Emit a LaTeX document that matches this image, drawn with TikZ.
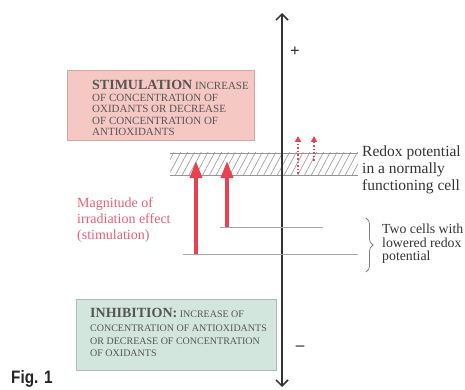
\documentclass[tikz,border=0pt]{standalone}
\usepackage{fontspec}
\setmainfont{Liberation Serif}
\newfontfamily\figfont{Liberation Sans}
\usetikzlibrary{arrows.meta,patterns.meta,decorations.pathreplacing}
\definecolor{stimpink}{RGB}{246,200,196}
\definecolor{stimedge}{RGB}{214,166,162}
\definecolor{inhgreen}{RGB}{211,230,221}
\definecolor{inhedge}{RGB}{170,190,182}
\definecolor{effred}{RGB}{232,66,80}
\definecolor{labred}{RGB}{230,96,114}
\definecolor{boxtext}{RGB}{85,85,85}
\definecolor{hatchgray}{RGB}{150,150,150}

\begin{document}
\begin{tikzpicture}[x=1pt, y=-1pt,
    boxtxt/.style = {anchor = north west, align = left, inner sep = 0pt, text = boxtext,
                     font = \fontsize{10}{11.5}\selectfont},
    sidetxt/.style = {anchor = west, align = left, inner sep = 0pt, text = black!80},
    effect/.style = {draw = effred, line width = 3.6pt, -{Triangle[width = 12pt, length = 17pt]}},
    rise/.style = {draw = effred, line width = 1.6pt, dotted, -{Triangle[width = 6pt, length = 6pt]}},
    level/.style = {draw = gray!70, line width = .7pt},
    sign/.style = {font = \bfseries\fontsize{17}{17}\selectfont, text = black!80, inner sep = 0pt}]
    \useasboundingbox (0,0) rectangle (465,390);
    % Draw the boxes
    \node[draw = stimedge, fill = stimpink, minimum width = 187pt, minimum height = 70pt, inner sep = 0pt] (stim) at (160.5,105) {};
    \node[boxtxt, font = \fontsize{11}{11.6}\selectfont] (stimtxt) at (92,80) {{\fontsize{14}{11.6}\selectfont\bfseries STIMULATION} INCREASE\\
        OF CONCENTRATION OF\\ OXIDANTS OR DECREASE\\ OF CONCENTRATION OF\\ ANTIOXIDANTS};
    \node[draw = inhedge, fill = inhgreen, minimum width = 200pt, minimum height = 71pt, inner sep = 0pt] (inh) at (176,334.5) {};
    \node[boxtxt, font = \fontsize{10}{12.5}\selectfont] (inhtxt) at (90,308) {{\fontsize{14}{12.5}\selectfont\bfseries INHIBITION:} INCREASE OF\\[2pt]
        CONCENTRATION OF ANTIOXIDANTS\\ OR DECREASE OF CONCENTRATION\\ OF OXIDANTS};
    % Draw the hatched band
    \fill[pattern = {Lines[angle = 62, distance = 6pt, line width = .6pt]}, pattern color = hatchgray] (170,153) rectangle (358,175);
    \draw[hatchgray, line width = .5pt] (170,153) -- (358,153) (170,175) -- (358,175);
    % Draw the axis
    \coordinate (bottom) at (282,387);
    \coordinate (top) at (282,13);
    \draw[line width = 1.5pt, black!80, {Straight Barb[length = 6pt, width = 12pt]}-{Straight Barb[length = 6pt, width = 12pt]}] (bottom) -- (top);
    \node[sign] (plus) at (295,52) {+};
    \node[sign] (minus) at (300,348) {--};
    % Draw the lowered levels
    \coordinate (lowA) at (183,254);
    \coordinate (lowB) at (358,254);
    \coordinate (midA) at (220,227);
    \coordinate (midB) at (323,227);
    \draw[level] (lowA) -- (lowB);
    \draw[level] (midA) -- (midB);
    % Draw the arrows
    \coordinate (bigfoot) at (196,254);
    \coordinate (bigtip) at (196,161);
    \coordinate (smallfoot) at (227,227);
    \coordinate (smalltip) at (227,161);
    \draw[effect] (bigfoot) -- (bigtip);
    \draw[effect] (smallfoot) -- (smalltip);
    \coordinate (dotAfoot) at (298,174);
    \coordinate (dotAtip) at (298,136);
    \coordinate (dotBfoot) at (314,161);
    \coordinate (dotBtip) at (314,136);
    \draw[rise] (dotAfoot) -- (dotAtip);
    \draw[rise] (dotBfoot) -- (dotBtip);
    % Labels
    \node[sidetxt, text = labred, font = \fontsize{14}{16}\selectfont] (magn) at (77,220) {Magnitude of\\ irradiation effect\\ (stimulation)};
    \node[sidetxt, font = \fontsize{15.5}{17}\selectfont] (redox) at (362,170) {Redox potential\\ in a normally\\ functioning cell};
    \coordinate (braceTop) at (366,218);
    \coordinate (braceBot) at (366,272);
    \draw[gray, line width = .8pt, decorate, decoration = {brace, amplitude = 7pt}] (braceTop) -- (braceBot);
    \node[sidetxt, font = \fontsize{13.8}{13.5}\selectfont] (twocells) at (382,244) {Two cells with\\ lowered redox\\ potential};
    \node[anchor = west, inner sep = 0pt, font = \figfont\bfseries\fontsize{18}{18}\selectfont, text = black!85] (fig) at (11,379) {\scalebox{.85}[1]{Fig. 1}};
  \end{tikzpicture}
\end{document}
